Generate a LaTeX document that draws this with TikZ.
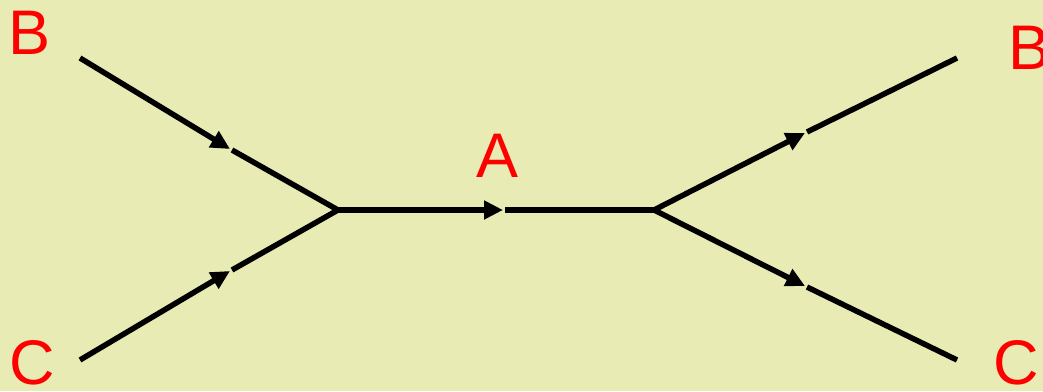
\documentclass[tikz,border=0pt]{standalone}
\usepackage{fontspec}
\setmainfont{Liberation Sans}
\usetikzlibrary{arrows.meta}
\definecolor{bgcol}{HTML}{E9EBB4}
\tikzset{
  lab/.style={text=red, font=\fontsize{63}{63}\selectfont, inner sep=0pt, anchor=center},
  line/.style={line width=5.5pt, black},
  arr/.style={line width=5.5pt, black, -{Triangle[length=19pt,width=18pt]}}
}
\begin{document}
\begin{tikzpicture}[x=1pt,y=-1pt]
\fill[bgcol] (0,0) rectangle (1043,391);
\useasboundingbox (0,0) rectangle (1043,391);
% coordinates
\coordinate (b1) at (80,58);
\coordinate (c1) at (80,360);
\coordinate (v1) at (338,210);
\coordinate (v2) at (654,210);
\coordinate (b2) at (957,58);
\coordinate (c2) at (957,360);
\coordinate (tb1) at (230,149);
\coordinate (sb1) at (232,150);
\coordinate (tc1) at (230,271);
\coordinate (sc1) at (232,270);
\coordinate (ta) at (503,210);
\coordinate (sa) at (505,210);
\coordinate (tb2) at (805,133);
\coordinate (sb2) at (807,132);
\coordinate (tc2) at (805,286);
\coordinate (sc2) at (807,287);
% lines
\draw[arr] (b1) -- (tb1);
\draw[line] (sb1) -- (v1);
\draw[arr] (c1) -- (tc1);
\draw[line] (sc1) -- (v1);
\draw[arr] (v1) -- (ta);
\draw[line] (sa) -- (v2);
\draw[arr] (v2) -- (tb2);
\draw[line] (sb2) -- (b2);
\draw[arr] (v2) -- (tc2);
\draw[line] (sc2) -- (c2);
% labels
\node[lab] (lb1) at (30,33) {B};
\node[lab] (lc1) at (32,363) {C};
\node[lab] (la) at (498,156) {A};
\node[lab] (lb2) at (1029,48) {B};
\node[lab] (lc2) at (1016,363) {C};
\end{tikzpicture}
\end{document}
